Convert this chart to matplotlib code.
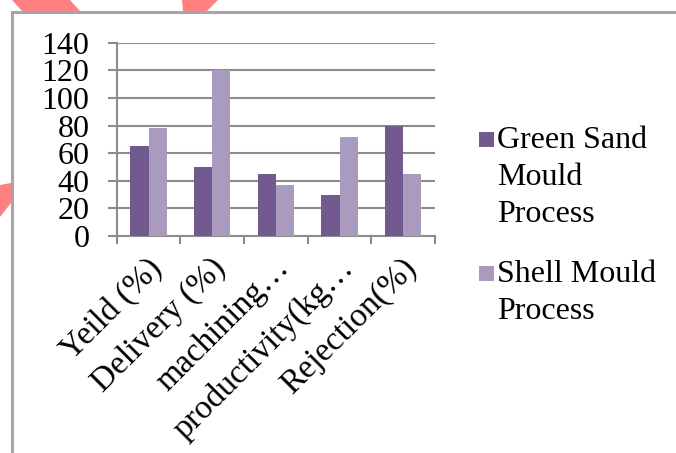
import matplotlib.pyplot as plt
from matplotlib.patches import Polygon, Rectangle
import numpy as np

# Process comparison data
categories = ['Yeild (%)', 'Delivery (%)', 'machining…', 'productivity(kg…', 'Rejection(%)']
green_sand = [65, 50, 45, 30, 80]
shell_mould = [78, 120, 37, 72, 45]
series_labels = ['Green Sand\nMould\nProcess', 'Shell Mould\nProcess']
yticks = [0, 20, 40, 60, 80, 100, 120, 140]

dark_purple = '#725990'
light_purple = '#A99BBE'
grid_gray = '#8C8C8C'

plt.rcParams['font.family'] = ['Liberation Serif', 'DejaVu Serif']

W, H = 676, 453
fig = plt.figure(figsize=(W / 100, H / 100), dpi=100)


def px(x, y):
    return (x / W, 1 - y / H)


# Pink shapes peeking in around the border
for pts in [[(12, 0), (70, 0), (80, 11), (22, 11)],
            [(182, 0), (218, 0), (207, 11), (183, 11)],
            [(0, 185), (11, 183), (11, 203), (0, 217)]]:
    fig.patches.append(Polygon([px(*p) for p in pts], closed=True,
                               transform=fig.transFigure, facecolor='#FF8080',
                               edgecolor='none', zorder=0))

# Outer chart frame, running off the right and bottom edges
fig.patches.append(Rectangle(px(11.5, 470), 700 / W, 458.5 / H,
                             transform=fig.transFigure, facecolor='none',
                             edgecolor='#A6A6A6', linewidth=2.2, zorder=1))

ax = fig.add_axes([116.7 / W, 1 - 236 / H, (435 - 116.7) / W, (236 - 42.7) / H])

x = np.arange(len(categories))
w = 0.285
for off, vals, col in [(-w / 2, green_sand, dark_purple), (w / 2, shell_mould, light_purple)]:
    ax.bar(x + off, vals, w, color=col, zorder=3)

ax.set_xlim(-0.5, len(categories) - 0.5)
ax.set_ylim(0, 140)
ax.set_yticks(yticks)
ax.yaxis.grid(True, color=grid_gray, linewidth=1.5, zorder=0)
ax.set_axisbelow(True)

for s in ['top', 'right']:
    ax.spines[s].set_visible(False)
for s in ['left', 'bottom']:
    ax.spines[s].set_color(grid_gray)
    ax.spines[s].set_linewidth(1.5)

ax.tick_params(axis='y', length=6.5, width=1.5, color=grid_gray, labelsize=23, pad=13)

# Category boundaries get tick marks, labels sit at the centres
ax.set_xticks(x - 0.03)
ax.set_xticklabels(categories, rotation=45, ha='right', rotation_mode='anchor', fontsize=24)
ax.tick_params(axis='x', which='major', length=0, pad=12)
ax.set_xticks(np.arange(len(categories) + 1) - 0.5, minor=True)
ax.tick_params(axis='x', which='minor', length=6, width=1.5, color=grid_gray)

# Legend: swatch beside the first line of each wrapped label
line_gap = 37
for top_y, label, col in [(148, series_labels[0], dark_purple), (282, series_labels[1], light_purple)]:
    fig.patches.append(Rectangle(px(479, top_y - 1), 15 / W, 15 / H,
                                 transform=fig.transFigure, facecolor=col,
                                 edgecolor='none'))
    for i, line in enumerate(label.split('\n')):
        fig.text(*px(497, top_y + i * line_gap), line, fontsize=23,
                 va='baseline', ha='left')

fig.savefig('out.png', dpi=100)
